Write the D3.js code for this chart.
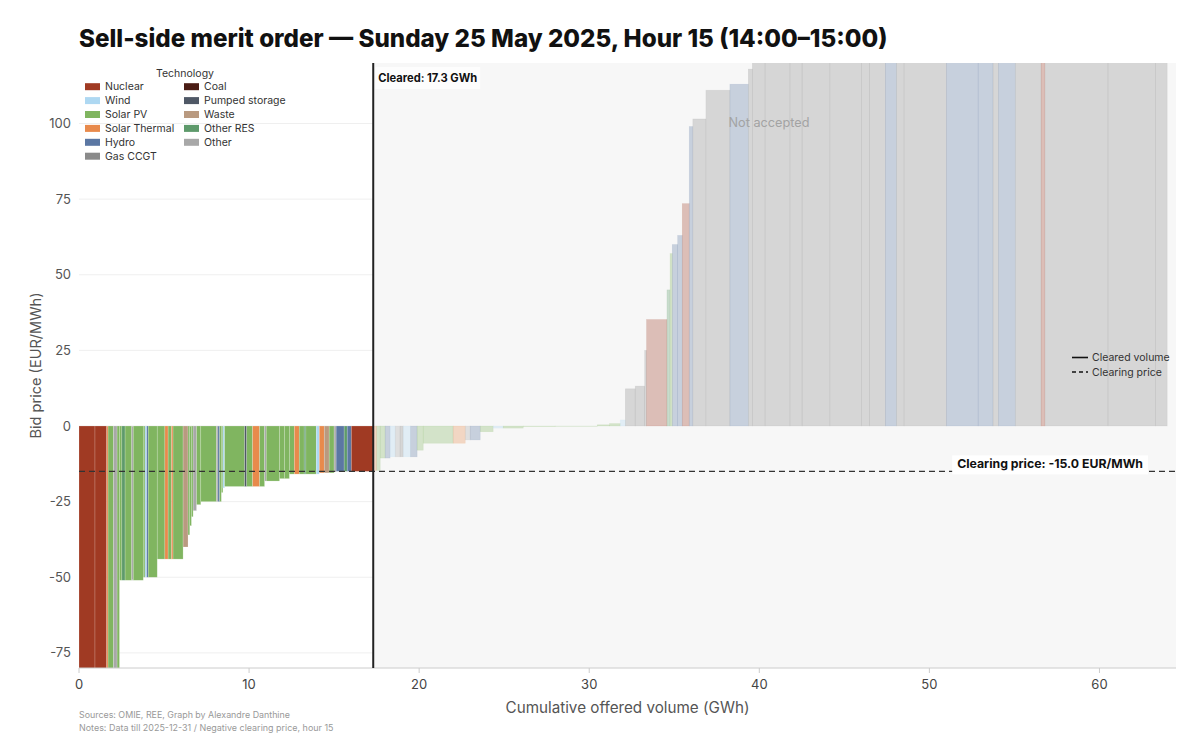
<!DOCTYPE html>
<html><head><meta charset="utf-8">
<script src="https://cdn.jsdelivr.net/npm/d3@7"></script>
<style>body{margin:0;background:#fff;} svg{display:block;font-family:Inter,"Open Sans",sans-serif;}</style>
</head><body><svg id="c" width="1200" height="756"></svg>
<script>
// ---- data ----
const technologies = ["Nuclear","Wind","Solar PV","Solar Thermal","Hydro","Gas CCGT","Coal","Pumped storage","Waste","Other RES","Other"];
const techColors   = ["#a03a23","#aed8f2","#80b560","#e88a4c","#5b77a3","#8a8a8a","#4a1c14","#4f5866","#b99a80","#5e9a6b","#a8a8a8"];
const techCodes    = ["N","W","PV","ST","H","G","C","PS","WS","OR","O"];

// accepted bids (merit order)
const acceptedVolumes = [0.94,0.69,0.08,0.32,0.21,0.14,0.14,0.19,0.39,0.09,0.59,0.10,0.10,0.09,0.53,0.45,0.19,0.20,0.09,0.59,0.29,0.10,0.10,0.10,0.20,0.25,0.92,0.09,0.10,0.10,0.09,0.10,1.18,0.12,0.35,0.41,0.29,0.10,0.78,0.29,0.29,0.29,0.29,0.29,0.10,0.61,0.18,0.29,0.29,0.29,0.12,0.47,0.18,0.24,1.29];
const acceptedPrices  = [-500,-500,-500,-500,-500,-500,-51,-51,-51,-51,-51,-50,-50,-50,-50,-44,-44,-44,-44,-44,-40,-36,-33,-30,-28,-26,-25,-25,-25,-25,-22,-20.5,-20,-20,-20,-20,-20,-18.2,-18.2,-17.4,-17.4,-15.9,-15.9,-15.9,-15.9,-15.9,-15.9,-15.5,-15.5,-15.5,-15.2,-15,-15,-15,-15];
const acceptedTechs   = ["N","N","ST","PV","O","PV","PV","OR","PV","O","PV","PV","W","H","PV","PV","ST","PV","ST","PV","WS","PV","PV","PV","O","PV","PV","O","H","PV","PV","W","PV","PS","PV","ST","PV","O","PV","PV","PV","PV","ST","PV","OR","PV","W","ST","WS","PV","O","H","OR","H","N"];

// bids not accepted
const rejectedVolumes = [0.20,0.21,0.29,0.29,0.30,0.29,0.18,0.44,0.38,0.36,1.76,0.71,0.29,0.59,0.76,0.59,1.18,1.88,2.47,0.73,0.62,0.30,0.58,0.56,0.11,1.20,0.18,0.13,0.32,0.27,0.41,0.21,0.77,1.41,1.08,0.24,0.75,1.46,0.72,1.63,1.85,0.47,0.94,0.65,0.45,2.49,1.87,0.87,0.32,0.99,1.52,0.22,3.71,2.80,0.68];
const rejectedPrices  = [-14.7,-14.7,-10.6,-10.6,-10.2,-10.2,-10.2,-10.2,-10.2,-8,-5.7,-5.7,-4.6,-4.6,-1.9,-0.7,-0.7,-0.2,-0.1,0.4,0.8,2.0,12.3,13.2,25,35.2,45,57,60,63,73.5,99,101.5,111,113,118,150,180,180,200,200,220,220,250,250,300,300,300,350,350,400,400,450,500,500];
const rejectedTechs   = ["ST","PV","PV","H","W","O","G","W","H","PV","PV","ST","O","H","PV","W","PV","PV","PV","PV","PV","W","G","G","G","N","OR","PV","H","H","N","H","G","G","H","G","G","G","G","G","G","G","G","H","G","G","H","H","G","H","G","N","G","G","G"];

const clearedVolume = 17.3;
const clearingPrice = -15.0;
const xTicks = [0,10,20,30,40,50,60];
const yTicks = [-75,-50,-25,0,25,50,75,100];
const xDomain = [0,64.5];
const yDomain = [-80,120];

// ---- layout ----
const W = 1200, H = 756;
const m = {left:79, right:24, top:63, bottom:88};
const svg = d3.select("#c");
const x = d3.scaleLinear().domain(xDomain).range([m.left, W-m.right]);
const y = d3.scaleLinear().domain(yDomain).range([H-m.bottom, m.top]);
const color = d3.scaleOrdinal().domain(techCodes).range(techColors);

function fitWidth(sel, target){
  const w = sel.node().getComputedTextLength();
  const fs = parseFloat(sel.attr("font-size"));
  sel.attr("font-size", fs*target/w);
}

// bids table
const bids = [];
let cum = 0;
acceptedVolumes.forEach((v,i)=>{bids.push({x0:cum,x1:cum+v,price:acceptedPrices[i],tech:acceptedTechs[i],acc:true}); cum+=v;});
rejectedVolumes.forEach((v,i)=>{bids.push({x0:cum,x1:cum+v,price:rejectedPrices[i],tech:rejectedTechs[i],acc:false}); cum+=v;});

// clip
svg.append("defs").append("clipPath").attr("id","plotclip").append("rect")
  .attr("x",x(xDomain[0])).attr("y",y(yDomain[1])).attr("width",x(xDomain[1])-x(xDomain[0])).attr("height",y(yDomain[0])-y(yDomain[1]));

// gridlines
svg.append("g").selectAll("line").data(yTicks).join("line")
  .attr("x1",x(xDomain[0])).attr("x2",x(xDomain[1]))
  .attr("y1",d=>y(d)).attr("y2",d=>y(d))
  .attr("stroke","#efefef").attr("stroke-width",1);

// not-accepted background
svg.append("rect").attr("x",x(clearedVolume)).attr("y",y(yDomain[1]))
  .attr("width",x(xDomain[1])-x(clearedVolume)).attr("height",y(yDomain[0])-y(yDomain[1]))
  .attr("fill","#f7f7f7");

// bars
svg.append("g").attr("clip-path","url(#plotclip)").selectAll("rect").data(bids).join("rect")
  .attr("x",d=>x(d.x0)).attr("width",d=>x(d.x1)-x(d.x0))
  .attr("y",d=>y(Math.max(0,d.price))).attr("height",d=>Math.abs(y(d.price)-y(0)))
  .attr("fill",d=>color(d.tech)).attr("fill-opacity",d=>d.acc?1:0.3)
  .attr("stroke",d=>d.acc?"#ffffff":color(d.tech))
  .attr("stroke-opacity",d=>d.acc?0.3:0.15)
  .attr("stroke-width",0.6);

// x axis
const xa = svg.append("g").attr("transform",`translate(0,${y(yDomain[0])})`);
xa.append("line").attr("x1",x(xDomain[0])).attr("x2",x(xDomain[1])).attr("stroke","#cccccc");
xa.selectAll("line.t").data(xTicks).join("line").attr("class","t")
  .attr("x1",d=>x(d)).attr("x2",d=>x(d)).attr("y1",0).attr("y2",5).attr("stroke","#cccccc");
xa.selectAll("text").data(xTicks).join("text")
  .attr("x",d=>x(d)).attr("y",21).attr("text-anchor","middle")
  .attr("font-size",13).attr("fill","#444").text(d=>d);

// y axis labels
svg.append("g").selectAll("text").data(yTicks).join("text")
  .attr("x",m.left-8).attr("y",d=>y(d)+4.5).attr("text-anchor","end")
  .attr("font-size",13).attr("fill","#555").text(d=>d);

// axis titles
const xt = svg.append("text").attr("x",(x(xDomain[0])+x(xDomain[1]))/2).attr("y",713)
  .attr("text-anchor","middle").attr("font-size",15).attr("fill","#555").text("Cumulative offered volume (GWh)");
fitWidth(xt,244);
const yt = svg.append("text").attr("transform",`translate(41,${(y(yDomain[0])+y(yDomain[1]))/2}) rotate(-90)`)
  .attr("text-anchor","middle").attr("font-size",15).attr("fill","#555").text("Bid price (EUR/MWh)");
fitWidth(yt,146);

// clearing price dashed line
svg.append("line").attr("x1",x(xDomain[0])).attr("x2",x(xDomain[1]))
  .attr("y1",y(clearingPrice)).attr("y2",y(clearingPrice))
  .attr("stroke","#333").attr("stroke-width",1.2).attr("stroke-dasharray","6,4");

// cleared volume line
svg.append("line").attr("x1",x(clearedVolume)).attr("x2",x(clearedVolume))
  .attr("y1",y(yDomain[1])).attr("y2",y(yDomain[0]))
  .attr("stroke","#222").attr("stroke-width",2);

// cleared label
const cg = svg.append("g");
const cbg = cg.append("rect").attr("fill","#fff").attr("fill-opacity",0.7);
const ct = cg.append("text").attr("x",x(clearedVolume)+5).attr("y",82).attr("font-size",11).attr("font-weight",700)
  .attr("fill","#111").text(`Cleared: ${clearedVolume.toFixed(1)} GWh`);
fitWidth(ct,99);
{const b=ct.node().getBBox(); cbg.attr("x",b.x-3).attr("y",b.y-4).attr("width",b.width+6).attr("height",b.height+8);}

// clearing price label
const pg = svg.append("g");
const pbg = pg.append("rect").attr("fill","#fff");
const pt = pg.append("text").attr("x",1143).attr("y",y(clearingPrice)-3).attr("text-anchor","end")
  .attr("font-size",12).attr("font-weight",700).attr("fill","#111")
  .text(`Clearing price: ${clearingPrice.toFixed(1)} EUR/MWh`);
fitWidth(pt,186);
{const b=pt.node().getBBox(); pbg.attr("x",b.x-5).attr("y",b.y-1).attr("width",b.width+10).attr("height",b.height+4);}

// not accepted label
const na = svg.append("text").attr("x",769).attr("y",127).attr("text-anchor","middle")
  .attr("font-size",13).attr("fill","#a3a3a3").text("Not accepted");
fitWidth(na,81);

// right legend (lines)
const rl = svg.append("g");
[["Cleared volume",null],["Clearing price","4,3"]].forEach((d,i)=>{
  const yy = 357.5 + i*14.5;
  rl.append("line").attr("x1",1072).attr("x2",1088).attr("y1",yy).attr("y2",yy)
    .attr("stroke","#111").attr("stroke-width",1.6).attr("stroke-dasharray",d[1]);
  rl.append("text").attr("x",1092).attr("y",yy+3.6).attr("font-size",10.5).attr("fill","#333").text(d[0]);
});

// technology legend
const lg = svg.append("g");
lg.append("text").attr("x",185).attr("y",76.5).attr("text-anchor","middle").attr("font-size",10.5).attr("fill","#333").text("Technology");
technologies.forEach((t,i)=>{
  const col = i<6?0:1, row = i<6?i:i-6;
  const sx = col===0?85:184, yy = 86.7 + row*13.9;
  lg.append("rect").attr("x",sx).attr("y",yy-3.5).attr("width",15).attr("height",7).attr("fill",techColors[i]);
  lg.append("text").attr("x",sx+20).attr("y",yy+3.7).attr("font-size",10.5).attr("fill","#333").text(t);
});

// title
const tt = svg.append("text").attr("x",79).attr("y",47).attr("font-size",26).attr("font-weight",800)
  .attr("fill","#111").text("Sell-side merit order — Sunday 25 May 2025, Hour 15 (14:00–15:00)");
fitWidth(tt,809);

// footer
const f1 = svg.append("text").attr("x",79).attr("y",718).attr("font-size",10).attr("fill","#999")
  .text("Sources: OMIE, REE, Graph by Alexandre Danthine");
fitWidth(f1,211);
const f2 = svg.append("text").attr("x",79).attr("y",730.5).attr("font-size",10).attr("fill","#999")
  .text("Notes: Data till 2025-12-31 / Negative clearing price, hour 15");
fitWidth(f2,255);
</script></body></html>
